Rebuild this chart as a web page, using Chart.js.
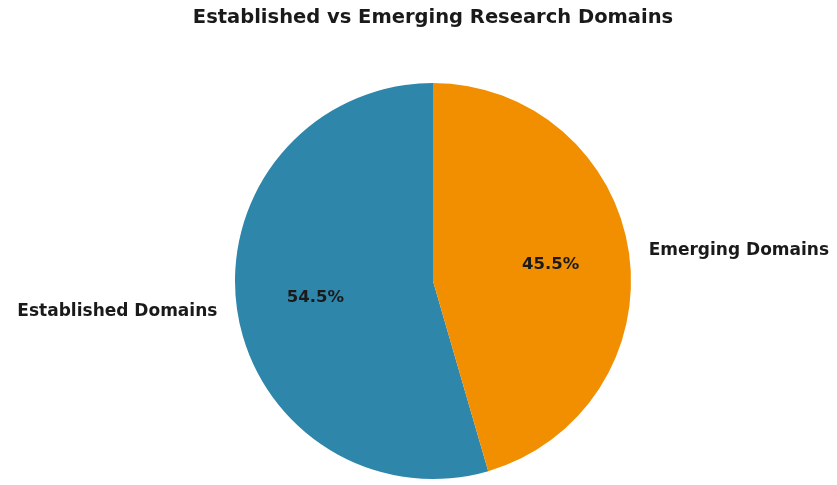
<!DOCTYPE html>
<html>
<head>
<meta charset="utf-8">
<script src="https://cdn.jsdelivr.net/npm/chart.js@4"></script>
<style>
  html, body { margin: 0; padding: 0; background: #fff; }
  #wrap { width: 837px; height: 485px; }
</style>
</head>
<body>
<div id="wrap"><canvas id="pieChart" width="837" height="485"></canvas></div>
<script>
const categories = ["Established Domains", "Emerging Domains"]
const shares = [54.5, 45.5]
const sliceColors = ["#2E86AB", "#F18F01"]

const FONT = "'DejaVu Sans', sans-serif"

// draws the percent inside each slice and the category name just outside it
const sliceLabels = {
  id: "sliceLabels",
  afterDatasetsDraw(chart) {
    const ctx = chart.ctx
    const meta = chart.getDatasetMeta(0)
    ctx.save()
    ctx.fillStyle = "#1a1a1a"
    ctx.textBaseline = "middle"
    meta.data.forEach(function(arc, i) {
      const p = arc.getProps(["x", "y", "startAngle", "endAngle", "outerRadius"], true)
      const mid = (p.startAngle + p.endAngle) / 2
      const cos = Math.cos(mid), sin = Math.sin(mid)

      ctx.font = "bold 16.5px " + FONT
      ctx.textAlign = "center"
      ctx.fillText(shares[i].toFixed(1) + "%", p.x + cos * p.outerRadius * 0.6, p.y + sin * p.outerRadius * 0.6)

      ctx.font = "bold 17px " + FONT
      ctx.textAlign = cos >= 0 ? "left" : "right"
      ctx.fillText(categories[i], p.x + cos * p.outerRadius * 1.1, p.y + sin * p.outerRadius * 1.1)
    })
    ctx.restore()
  }
}

new Chart(document.getElementById("pieChart"), {
  type: "pie",
  data: {
    labels: categories,
    datasets: [{
      data: shares,
      backgroundColor: sliceColors,
      borderWidth: 0
    }]
  },
  options: {
    responsive: false,
    animation: false,
    // first slice runs counter-clockwise from 12 o'clock, like the original
    rotation: 360 - shares[0] / 100 * 360,
    layout: { padding: { left: 29, right: 0, top: 0, bottom: 6 } },
    plugins: {
      legend: { display: false },
      tooltip: { enabled: false },
      title: {
        display: true,
        text: "Established vs Emerging Research Domains",
        color: "#1a1a1a",
        font: { family: FONT, size: 19.5, weight: "bold" },
        padding: { top: 6, bottom: 53.6 }
      }
    }
  },
  plugins: [sliceLabels]
})
</script>
</body>
</html>
